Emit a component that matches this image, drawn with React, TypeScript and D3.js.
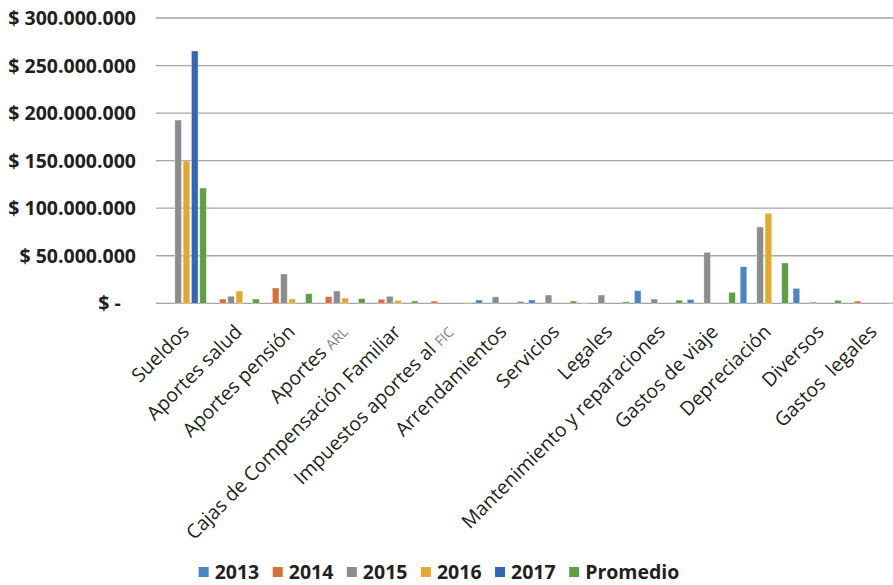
import React from 'react';
import * as d3 from 'd3';

// Values in millions of pesos
const categories = [
  'Sueldos',
  'Aportes salud',
  'Aportes pensión',
  'Aportes ARL',
  'Cajas de Compensación Familiar',
  'Impuestos aportes al FIC',
  'Arrendamientos',
  'Servicios',
  'Legales',
  'Mantenimiento y reparaciones',
  'Gastos de viaje',
  'Depreciación',
  'Diversos',
  'Gastos  legales',
];
const smallSuffix: Record<string, string> = { 'Aportes ARL': 'ARL', 'Impuestos aportes al FIC': 'FIC' };

const seriesNames = ['2013', '2014', '2015', '2016', '2017', 'Promedio'];
const v2013 = [0, 0, 0, 0, 0, 0, 3.5, 3.5, 0.3, 13.3, 4.0, 38.5, 15.7, 0];
const v2014 = [0, 4.5, 16.1, 7.0, 4.2, 2.3, 0, 0, 0, 0, 0, 0, 0, 2.4];
const v2015 = [192.7, 7.4, 30.8, 12.9, 7.4, 0, 6.8, 8.7, 8.7, 4.5, 53.6, 80.2, 1.4, 0];
const v2016 = [149.6, 12.9, 4.5, 5.6, 3.1, 0, 0, 0, 0, 0, 0, 94.6, 0, 0];
const v2017 = [265.3, 0, 0, 0, 0, 0, 0, 0, 0, 0, 0, 0, 0, 0];
const vProm = [121.2, 4.5, 10.1, 4.9, 2.4, 0.5, 1.9, 2.4, 1.6, 3.3, 11.5, 42.4, 3.1, 0.5];
const seriesValues = [v2013, v2014, v2015, v2016, v2017, vProm];
const seriesColors = ['#4a86c3', '#d6703a', '#8a8c8e', '#e2a92d', '#2f67b9', '#5e9e47'];

const yTicks = [0, 50, 100, 150, 200, 250, 300];
const yTickLabels = ['$ -\u00A0\u00A0\u00A0', '$ 50.000.000', '$ 100.000.000', '$ 150.000.000', '$ 200.000.000', '$ 250.000.000', '$ 300.000.000'];

const W = 893;
const H = 585;
const FONT = "'Open Sans', 'Noto Sans', sans-serif";

function measure(text: string, font: string): number {
  const c = document.createElement('canvas');
  const ctx = c.getContext('2d');
  if (!ctx) return text.length * 10;
  ctx.font = font;
  return ctx.measureText(text).width;
}

export default function App() {
  const x0 = d3.scaleBand<string>().domain(categories).range([155.85, 896.5]).padding(0);
  const x1 = d3
    .scaleBand<string>()
    .domain(seriesNames)
    .range([0, x0.bandwidth()])
    .paddingInner(0.2)
    .paddingOuter(0.287);
  const y = d3.scaleLinear().domain([0, 300]).range([303.3, 18]);

  // legend layout
  const legendFont = `700 19.5px 'Open Sans'`;
  const sq = 10;
  const sqGap = 6;
  const itemGap = 13.5;
  const widths = seriesNames.map((s) => sq + sqGap + measure(s, legendFont));
  const total = d3.sum(widths) + itemGap * (seriesNames.length - 1);
  const legendCenter = 439;
  let lx = legendCenter - total / 2;
  const legendItems = seriesNames.map((s, i) => {
    const item = { name: s, x: lx, color: seriesColors[i] };
    lx += widths[i] + itemGap;
    return item;
  });
  const legendY = 572;

  return (
    <svg width={W} height={H} style={{ position: 'absolute', left: 0, top: 0, background: '#fff' }}>
      {/* gridlines */}
      {yTicks.map((t) => (
        <line key={'g' + t} x1={156} x2={W} y1={y(t)} y2={y(t)} stroke="#a5a5a5" strokeWidth={1.3} />
      ))}
      {/* y labels */}
      {yTicks.map((t, i) => (
        <text
          key={'yl' + t}
          x={136}
          y={y(t)}
          dy="0.36em"
          textAnchor="end"
          fontFamily={FONT}
          fontWeight={700}
          fontSize={19.5}
          fill="#231f20"
          style={{ whiteSpace: 'pre' }}
        >
          {yTickLabels[i]}
        </text>
      ))}
      {/* bars */}
      {categories.map((c, ci) => (
        <g key={'c' + ci} transform={`translate(${x0(c)},0)`}>
          {seriesNames.map((s, si) => {
            const v = seriesValues[si][ci];
            if (!v) return null;
            return (
              <rect
                key={s}
                x={x1(s)}
                y={y(v)}
                width={x1.bandwidth()}
                height={y(0) - y(v)}
                fill={seriesColors[si]}
                stroke="#ffffff"
                strokeOpacity={0.45}
                strokeWidth={0.8}
              />
            );
          })}
        </g>
      ))}
      {/* x labels */}
      {categories.map((c) => {
        const cx = (x0(c) as number) + x0.bandwidth() / 2;
        const suf = smallSuffix[c];
        const main = suf ? c.slice(0, c.length - suf.length) : c;
        return (
          <text
            key={'xl' + c}
            transform={`translate(${cx + 8},333) rotate(-45)`}
            textAnchor="end"
            fontFamily={FONT}
            fontSize={19.5}
            fill="#231f20"
            style={{ whiteSpace: 'pre' }}
          >
            {main}
            {suf ? (
              <tspan fontSize={14} fill="#7f7f7f">
                {suf}
              </tspan>
            ) : null}
          </text>
        );
      })}
      {/* legend */}
      {legendItems.map((it) => (
        <g key={'lg' + it.name}>
          <rect x={it.x} y={legendY - sq / 2} width={sq} height={sq} fill={it.color} />
          <text
            x={it.x + sq + sqGap}
            y={legendY}
            dy="0.36em"
            fontFamily={FONT}
            fontWeight={700}
            fontSize={19.5}
            fill="#231f20"
          >
            {it.name}
          </text>
        </g>
      ))}
    </svg>
  );
}
